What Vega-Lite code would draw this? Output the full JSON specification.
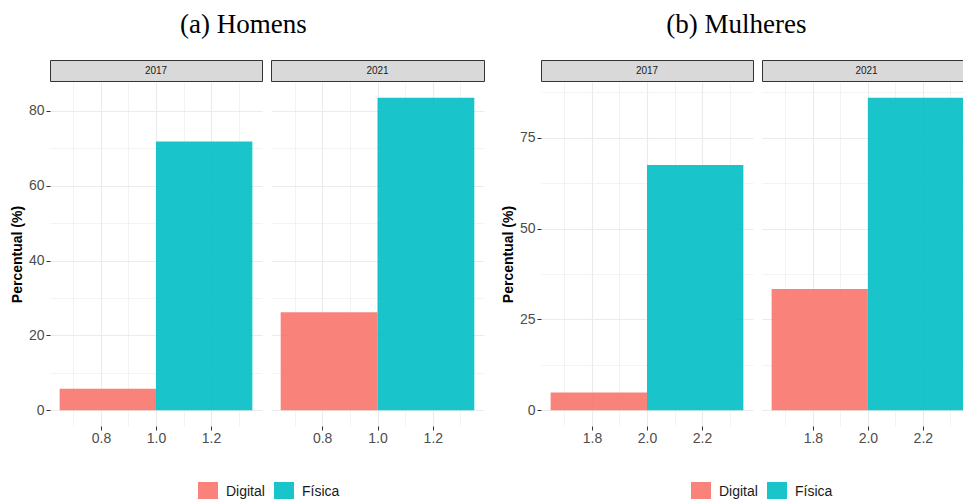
{
  "$schema": "https://vega.github.io/schema/vega-lite/v6.json",
  "padding": {"left": 10, "top": 10, "right": 0, "bottom": 0},
  "background": "white",
  "data": {"values": [
    {"sexo": "Homens", "ano": "2017", "tipo": "Digital", "x_ini": 0.65, "x_fim": 1.0, "valor": 5.8},
    {"sexo": "Homens", "ano": "2017", "tipo": "Física", "x_ini": 1.0, "x_fim": 1.35, "valor": 71.8},
    {"sexo": "Homens", "ano": "2021", "tipo": "Digital", "x_ini": 0.65, "x_fim": 1.0, "valor": 26.2},
    {"sexo": "Homens", "ano": "2021", "tipo": "Física", "x_ini": 1.0, "x_fim": 1.35, "valor": 83.5},
    {"sexo": "Mulheres", "ano": "2017", "tipo": "Digital", "x_ini": 1.65, "x_fim": 2.0, "valor": 4.9},
    {"sexo": "Mulheres", "ano": "2017", "tipo": "Física", "x_ini": 2.0, "x_fim": 2.35, "valor": 67.5},
    {"sexo": "Mulheres", "ano": "2021", "tipo": "Digital", "x_ini": 1.65, "x_fim": 2.0, "valor": 33.4},
    {"sexo": "Mulheres", "ano": "2021", "tipo": "Física", "x_ini": 2.0, "x_fim": 2.35, "valor": 86.0}
  ]},
  "config": {
    "font": "Liberation Sans",
    "view": {"stroke": null},
    "axis": {"gridColor": "#EBEBEB", "tickColor": "#333333", "labelColor": "#4D4D4D", "labelFontSize": 14, "labelFont": "Liberation Sans", "domain": false, "tickSize": 4, "titleFont": "Liberation Sans", "titleFontSize": 14, "titleFontWeight": "bold", "titleColor": "#000000"},
    "title": {"font": "Liberation Serif", "fontSize": 27, "fontWeight": "normal", "color": "#000000", "anchor": "middle", "offset": 21},
    "legend": {"orient": "none", "direction": "horizontal", "title": null, "symbolType": "square", "symbolSize": 400, "symbolStrokeWidth": 0, "symbolOpacity": 0.9, "labelFontSize": 14, "labelFont": "Liberation Sans", "labelColor": "#1A1A1A", "labelOffset": 8, "columnPadding": 9, "legendY": 422}
  },
  "spacing": 16,
  "resolve": {"scale": {"color": "independent"}},
  "hconcat": [
    {
      "title": {"text": "(a) Homens", "dx": -4},
      "spacing": 7,
      "hconcat": [
        {
          "spacing": 0,
          "vconcat": [
            {"width": 212, "height": 21, "view": {"fill": "#D9D9D9", "stroke": "#333333", "strokeWidth": 1},
             "transform": [{"filter": "datum.sexo == 'Homens' && datum.ano == '2017' && datum.tipo == 'Digital'"}],
             "mark": {"type": "text", "fontSize": 10, "color": "#1A1A1A"},
             "encoding": {"text": {"field": "ano"}}},
            {"width": 212, "height": 344,
             "transform": [{"filter": "datum.sexo == 'Homens' && datum.ano == '2017'"}],
             "layer": [
               {"mark": {"type": "point", "opacity": 0},
                "encoding": {
                  "x": {"field": "x_ini", "type": "quantitative", "scale": {"domain": [0.615, 1.385], "nice": false, "zero": false}, "axis": {"values": [0.7, 0.9, 1.1, 1.3], "orient": "top", "labels": false, "ticks": false, "title": null, "grid": true, "gridWidth": 0.6}},
                  "y": {"field": "valor", "type": "quantitative", "scale": {"domain": [-4.175, 87.675], "nice": false, "zero": false}, "axis": {"values": [10, 30, 50, 70], "orient": "right", "labels": false, "ticks": false, "title": null, "grid": true, "gridWidth": 0.6}}
                }},
               {"mark": {"type": "bar", "opacity": 0.9},
                "encoding": {
                  "x": {"field": "x_ini", "type": "quantitative", "scale": {"domain": [0.615, 1.385], "nice": false, "zero": false}, "axis": {"values": [0.8, 1.0, 1.2], "format": ".1f", "orient": "bottom", "title": null, "grid": true, "gridWidth": 1.1, "labelPadding": 1}},
                  "x2": {"field": "x_fim"},
                  "y": {"field": "valor", "type": "quantitative", "stack": null, "scale": {"domain": [-4.175, 87.675], "nice": false, "zero": false}, "axis": {"values": [0, 20, 40, 60, 80], "orient": "left", "title": "Percentual (%)", "titlePadding": 4, "labelPadding": 2, "grid": true, "gridWidth": 1.1}},
                  "y2": {"datum": 0},
                  "color": {"field": "tipo", "type": "nominal", "scale": {"domain": ["Digital", "Física"], "range": ["#F8766D", "#00BFC4"]}, "legend": {"legendX": 148}}
                }}
             ],
             "resolve": {"axis": {"x": "independent", "y": "independent"}}}
          ]
        },
        {
          "spacing": 0,
          "vconcat": [
            {"width": 213, "height": 21, "view": {"fill": "#D9D9D9", "stroke": "#333333", "strokeWidth": 1},
             "transform": [{"filter": "datum.sexo == 'Homens' && datum.ano == '2021' && datum.tipo == 'Digital'"}],
             "mark": {"type": "text", "fontSize": 10, "color": "#1A1A1A"},
             "encoding": {"text": {"field": "ano"}}},
            {"width": 213, "height": 344,
             "transform": [{"filter": "datum.sexo == 'Homens' && datum.ano == '2021'"}],
             "layer": [
               {"mark": {"type": "point", "opacity": 0},
                "encoding": {
                  "x": {"field": "x_ini", "type": "quantitative", "scale": {"domain": [0.615, 1.385], "nice": false, "zero": false}, "axis": {"values": [0.7, 0.9, 1.1, 1.3], "orient": "top", "labels": false, "ticks": false, "title": null, "grid": true, "gridWidth": 0.6}},
                  "y": {"field": "valor", "type": "quantitative", "scale": {"domain": [-4.175, 87.675], "nice": false, "zero": false}, "axis": {"values": [10, 30, 50, 70], "orient": "right", "labels": false, "ticks": false, "title": null, "grid": true, "gridWidth": 0.6}}
                }},
               {"mark": {"type": "bar", "opacity": 0.9},
                "encoding": {
                  "x": {"field": "x_ini", "type": "quantitative", "scale": {"domain": [0.615, 1.385], "nice": false, "zero": false}, "axis": {"values": [0.8, 1.0, 1.2], "format": ".1f", "orient": "bottom", "title": null, "grid": true, "gridWidth": 1.1, "labelPadding": 1}},
                  "x2": {"field": "x_fim"},
                  "y": {"field": "valor", "type": "quantitative", "stack": null, "scale": {"domain": [-4.175, 87.675], "nice": false, "zero": false}, "axis": {"values": [0, 20, 40, 60, 80], "orient": "left", "labels": false, "ticks": false, "title": null, "grid": true, "gridWidth": 1.1}},
                  "y2": {"datum": 0},
                  "color": {"field": "tipo", "type": "nominal", "scale": {"domain": ["Digital", "Física"], "range": ["#F8766D", "#00BFC4"]}, "legend": {"legendX": 148}}
                }}
             ],
             "resolve": {"axis": {"x": "independent", "y": "independent"}}}
          ]
        }
      ]
    },
    {
      "title": {"text": "(b) Mulheres", "dx": 4},
      "spacing": 7,
      "hconcat": [
        {
          "spacing": 0,
          "vconcat": [
            {"width": 212, "height": 21, "view": {"fill": "#D9D9D9", "stroke": "#333333", "strokeWidth": 1},
             "transform": [{"filter": "datum.sexo == 'Mulheres' && datum.ano == '2017' && datum.tipo == 'Digital'"}],
             "mark": {"type": "text", "fontSize": 10, "color": "#1A1A1A"},
             "encoding": {"text": {"field": "ano"}}},
            {"width": 212, "height": 344,
             "transform": [{"filter": "datum.sexo == 'Mulheres' && datum.ano == '2017'"}],
             "layer": [
               {"mark": {"type": "point", "opacity": 0},
                "encoding": {
                  "x": {"field": "x_ini", "type": "quantitative", "scale": {"domain": [1.615, 2.385], "nice": false, "zero": false}, "axis": {"values": [1.7, 1.9, 2.1, 2.3], "orient": "top", "labels": false, "ticks": false, "title": null, "grid": true, "gridWidth": 0.6}},
                  "y": {"field": "valor", "type": "quantitative", "scale": {"domain": [-4.3, 90.3], "nice": false, "zero": false}, "axis": {"values": [12.5, 37.5, 62.5, 87.5], "orient": "right", "labels": false, "ticks": false, "title": null, "grid": true, "gridWidth": 0.6}}
                }},
               {"mark": {"type": "bar", "opacity": 0.9},
                "encoding": {
                  "x": {"field": "x_ini", "type": "quantitative", "scale": {"domain": [1.615, 2.385], "nice": false, "zero": false}, "axis": {"values": [1.8, 2.0, 2.2], "format": ".1f", "orient": "bottom", "title": null, "grid": true, "gridWidth": 1.1, "labelPadding": 1}},
                  "x2": {"field": "x_fim"},
                  "y": {"field": "valor", "type": "quantitative", "stack": null, "scale": {"domain": [-4.3, 90.3], "nice": false, "zero": false}, "axis": {"values": [0, 25, 50, 75], "orient": "left", "title": "Percentual (%)", "titlePadding": 4, "labelPadding": 2, "grid": true, "gridWidth": 1.1}},
                  "y2": {"datum": 0},
                  "color": {"field": "tipo", "type": "nominal", "scale": {"domain": ["Digital", "Física"], "range": ["#F8766D", "#00BFC4"]}, "legend": {"legendX": 150}}
                }}
             ],
             "resolve": {"axis": {"x": "independent", "y": "independent"}}}
          ]
        },
        {
          "spacing": 0,
          "vconcat": [
            {"width": 201, "height": 21, "view": {"fill": "#D9D9D9", "stroke": "#333333", "strokeWidth": 1},
             "transform": [{"filter": "datum.sexo == 'Mulheres' && datum.ano == '2021' && datum.tipo == 'Digital'"}],
             "mark": {"type": "text", "fontSize": 10, "color": "#1A1A1A", "dx": 4},
             "encoding": {"text": {"field": "ano"}}},
            {"width": 201, "height": 344,
             "transform": [{"filter": "datum.sexo == 'Mulheres' && datum.ano == '2021'"}],
             "layer": [
               {"mark": {"type": "point", "opacity": 0},
                "encoding": {
                  "x": {"field": "x_ini", "type": "quantitative", "scale": {"domain": [1.615, 2.346], "nice": false, "zero": false}, "axis": {"values": [1.7, 1.9, 2.1, 2.3], "orient": "top", "labels": false, "ticks": false, "title": null, "grid": true, "gridWidth": 0.6}},
                  "y": {"field": "valor", "type": "quantitative", "scale": {"domain": [-4.3, 90.3], "nice": false, "zero": false}, "axis": {"values": [12.5, 37.5, 62.5, 87.5], "orient": "right", "labels": false, "ticks": false, "title": null, "grid": true, "gridWidth": 0.6}}
                }},
               {"mark": {"type": "bar", "opacity": 0.9, "clip": true},
                "encoding": {
                  "x": {"field": "x_ini", "type": "quantitative", "scale": {"domain": [1.615, 2.346], "nice": false, "zero": false}, "axis": {"values": [1.8, 2.0, 2.2], "format": ".1f", "orient": "bottom", "title": null, "grid": true, "gridWidth": 1.1, "labelPadding": 1}},
                  "x2": {"field": "x_fim"},
                  "y": {"field": "valor", "type": "quantitative", "stack": null, "scale": {"domain": [-4.3, 90.3], "nice": false, "zero": false}, "axis": {"values": [0, 25, 50, 75], "orient": "left", "labels": false, "ticks": false, "title": null, "grid": true, "gridWidth": 1.1}},
                  "y2": {"datum": 0},
                  "color": {"field": "tipo", "type": "nominal", "scale": {"domain": ["Digital", "Física"], "range": ["#F8766D", "#00BFC4"]}, "legend": {"legendX": 150}}
                }}
             ],
             "resolve": {"axis": {"x": "independent", "y": "independent"}}}
          ]
        }
      ]
    }
  ]
}
